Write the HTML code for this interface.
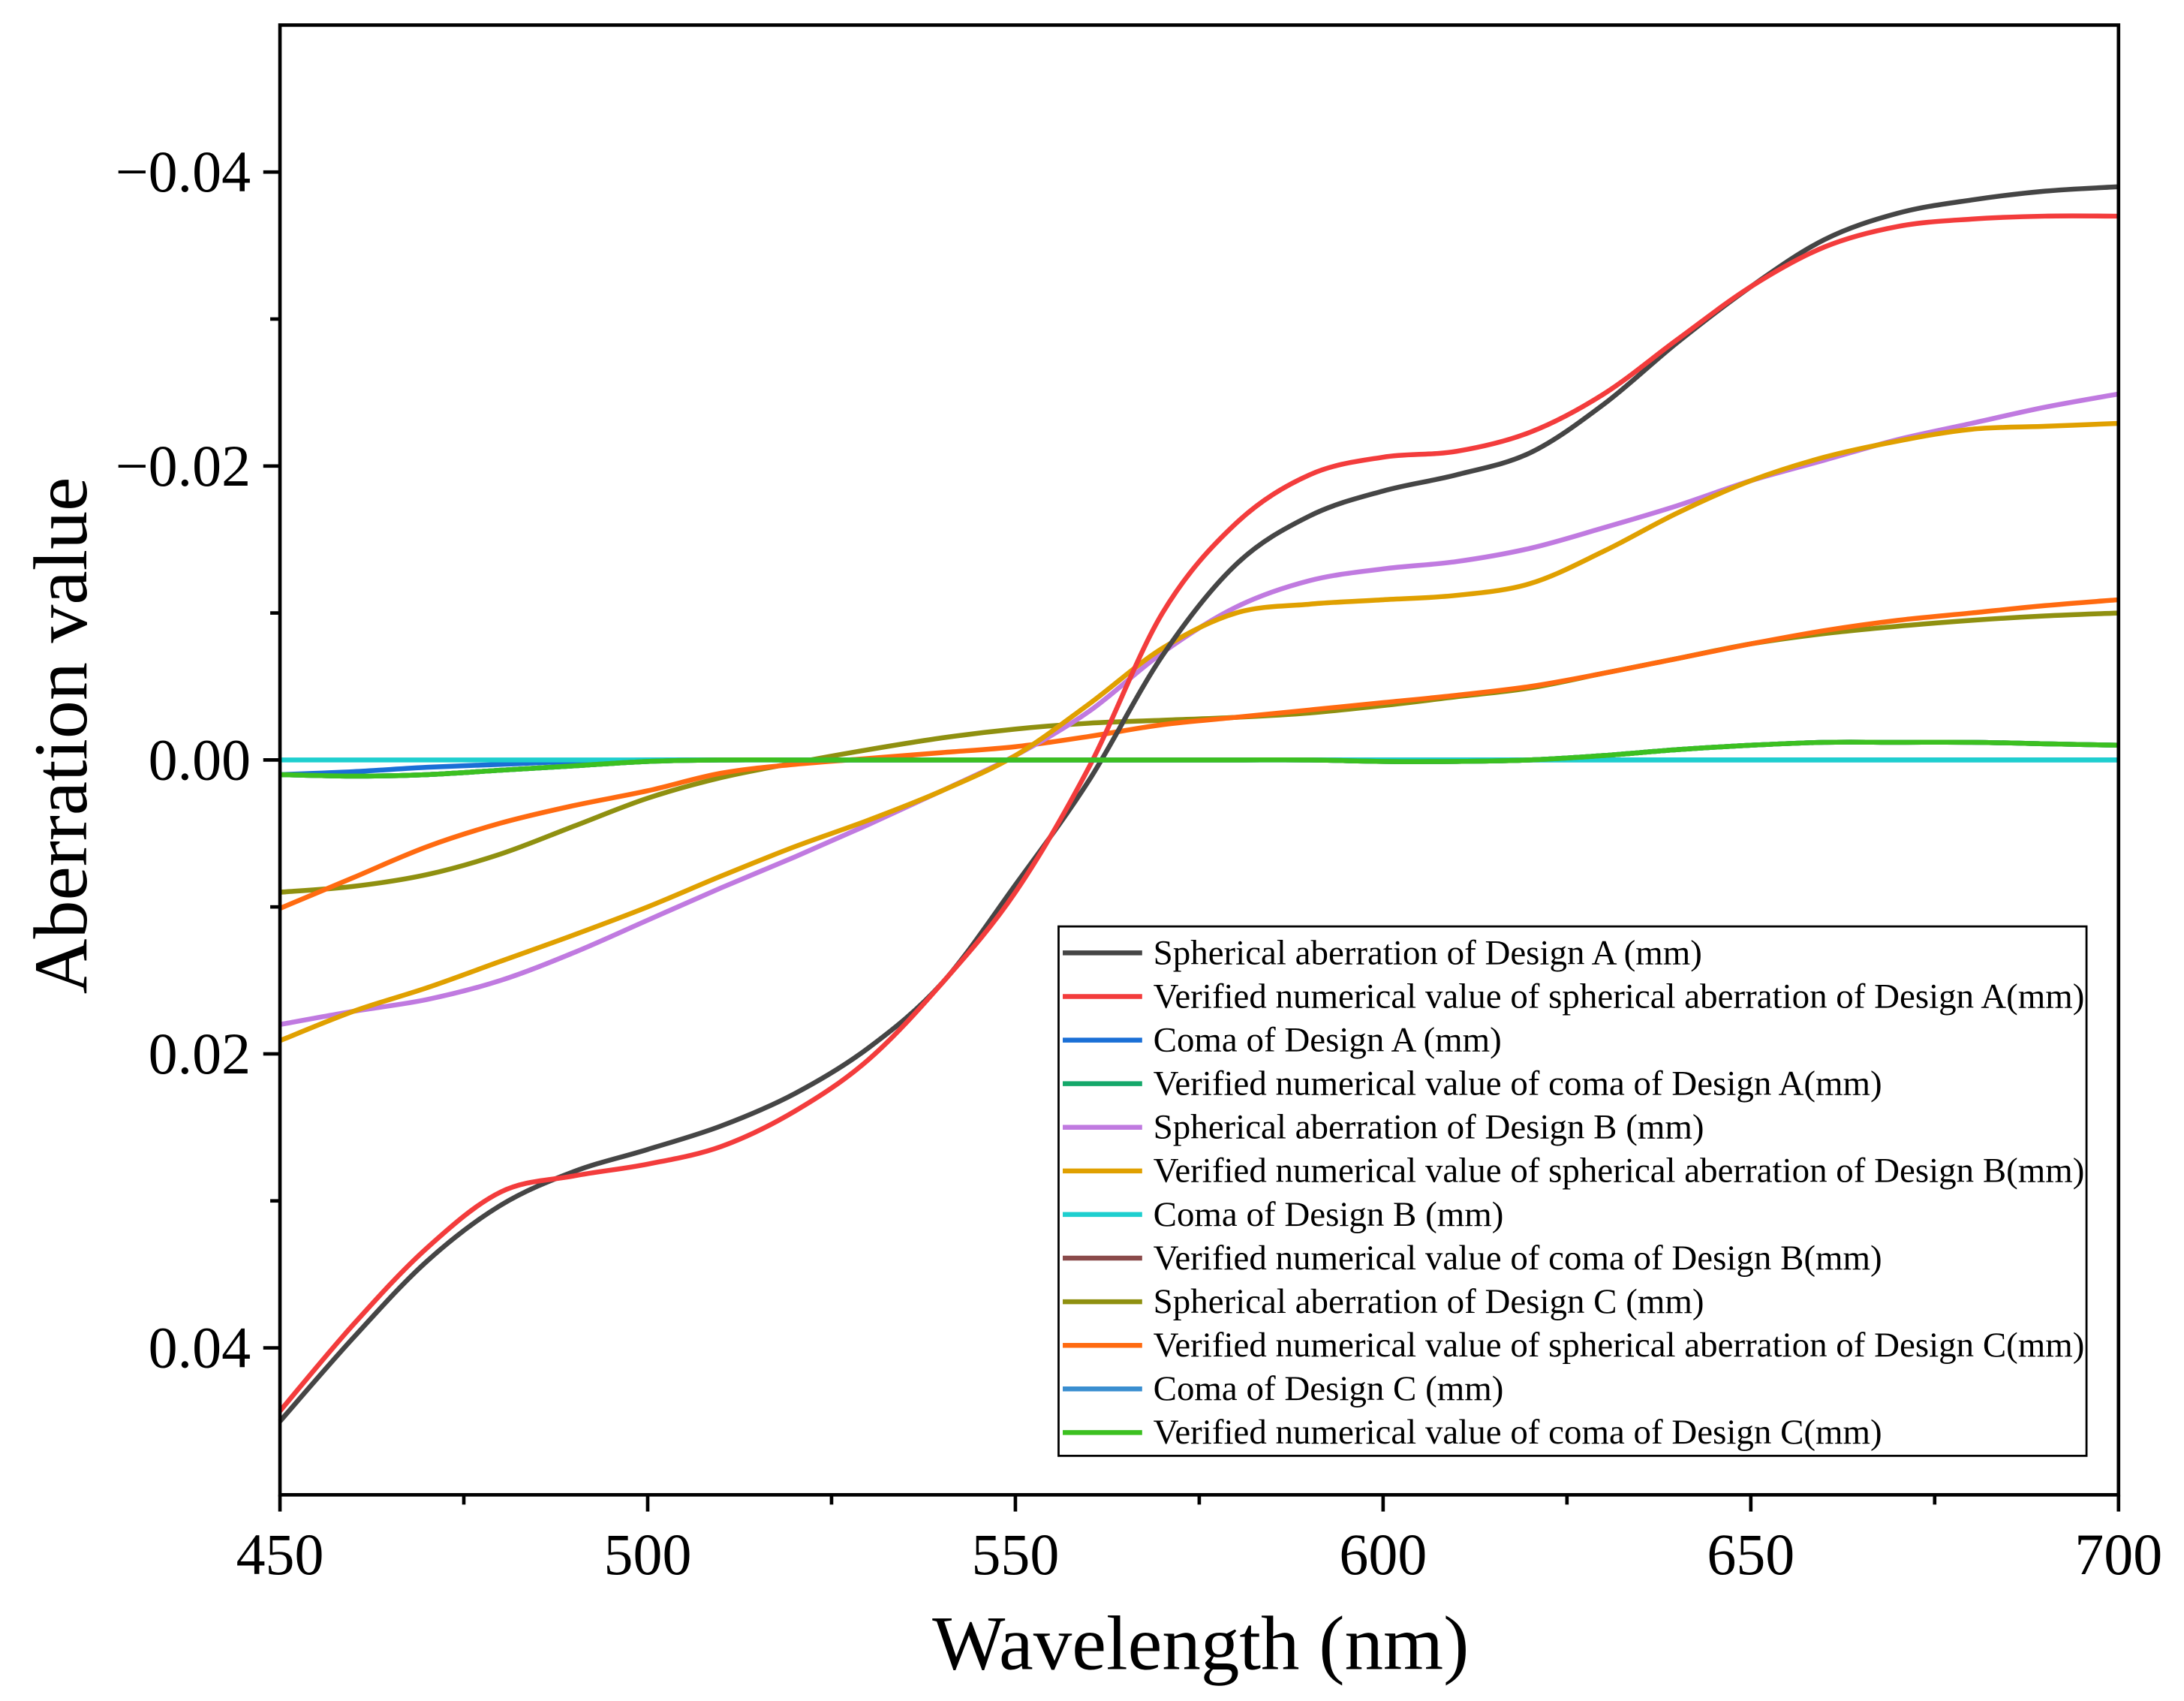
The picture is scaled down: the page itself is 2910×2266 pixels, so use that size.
<!DOCTYPE html>
<html><head><meta charset="utf-8"><style>
html,body{margin:0;padding:0;background:#fff}
svg{display:block}
text{font-family:"Liberation Serif",serif;fill:#000}
</style></head><body>
<svg id="chart" width="2910" height="2266" viewBox="0 0 1568 1221" xmlns="http://www.w3.org/2000/svg">
<g id="series"></g>
<rect x="201" y="18" width="1320" height="1055" fill="none" stroke="#000" stroke-width="2.5"/>
<g id="axes"></g>
<text x="862" y="1198" font-size="55.5" text-anchor="middle">Wavelength (nm)</text>
<text transform="translate(62,528) rotate(-90)" font-size="55" text-anchor="middle">Aberration value</text>
<g id="legend"></g>
</svg>
<script>
const wavelengths=[450,460,470,480,490,500,510,520,530,540,550,560,570,580,590,600,610,620,630,640,650,660,670,680,690,700];
const sphA=[0.045,0.0393,0.0341,0.0303,0.028,0.0265,0.0249,0.0227,0.0196,0.0152,0.0085,0.0014,-0.0071,-0.0133,-0.0166,-0.0183,-0.0194,-0.0209,-0.0242,-0.0284,-0.0322,-0.0354,-0.0372,-0.0381,-0.0387,-0.039];
const verSphA=[0.0443,0.0384,0.0332,0.0294,0.0283,0.0275,0.0263,0.0239,0.0204,0.0152,0.009,0.0005,-0.01,-0.0161,-0.0194,-0.0206,-0.021,-0.0223,-0.0249,-0.0286,-0.0322,-0.0349,-0.0363,-0.0368,-0.037,-0.037];
const comaA=[0.001,0.0008,0.0005,0.0003,0.0001,0,0,0,0,0,0,0,0,0,0,0,0,0,0,0,0,0,0,0,0,0];
const verComaA=[0.001,0.0011,0.001,0.0007,0.0004,0.0001,0,0,0,0,0,0,0,0,0,0.0001,0.0001,0,-0.0003,-0.0007,-0.001,-0.0012,-0.0012,-0.0012,-0.0011,-0.001];
const sphB=[0.018,0.0171,0.0163,0.015,0.0131,0.0109,0.0087,0.0066,0.0044,0.0021,-0.0003,-0.0033,-0.0073,-0.0104,-0.0122,-0.013,-0.0135,-0.0144,-0.0158,-0.0173,-0.019,-0.0204,-0.0218,-0.0229,-0.024,-0.0249];
const verSphB=[0.0191,0.0171,0.0155,0.0137,0.0119,0.01,0.0079,0.0059,0.0041,0.0021,-0.0003,-0.0038,-0.0076,-0.01,-0.0106,-0.0109,-0.0112,-0.012,-0.0142,-0.0168,-0.019,-0.0206,-0.0217,-0.0225,-0.0227,-0.0229];
const comaB=[0,0,0,0,0,0,0,0,0,0,0,0,0,0,0,0,0,0,0,0,0,0,0,0,0,0];
const verComaB=[0.001,0.0011,0.001,0.0007,0.0004,0.0001,0,0,0,0,0,0,0,0,0,0.0001,0.0001,0,-0.0003,-0.0007,-0.001,-0.0012,-0.0012,-0.0012,-0.0011,-0.001];
const sphC=[0.009,0.0086,0.0078,0.0064,0.0045,0.0026,0.0012,0.0002,-0.0007,-0.0015,-0.0021,-0.0025,-0.0027,-0.0029,-0.0032,-0.0037,-0.0043,-0.0049,-0.0059,-0.0069,-0.0079,-0.0086,-0.0091,-0.0095,-0.0098,-0.01];
const verSphC=[0.0101,0.008,0.0059,0.0043,0.0031,0.0021,0.0009,0.0003,-0.0001,-0.0005,-0.0009,-0.0016,-0.0024,-0.0029,-0.0034,-0.0039,-0.0044,-0.005,-0.0059,-0.0069,-0.0079,-0.0088,-0.0095,-0.01,-0.0105,-0.0109];
const comaC=[0.001,0.0011,0.001,0.0007,0.0004,0.0001,0,0,0,0,0,0,0,0,0,0.0001,0.0001,0,-0.0003,-0.0007,-0.001,-0.0012,-0.0012,-0.0012,-0.0011,-0.001];
const verComaC=[0.001,0.0011,0.001,0.0007,0.0004,0.0001,0,0,0,0,0,0,0,0,0,0.0001,0.0001,0,-0.0003,-0.0007,-0.001,-0.0012,-0.0012,-0.0012,-0.0011,-0.001];
const xTicks=[450,500,550,600,650,700];
const yTicks=[-0.04,-0.02,0,0.02,0.04];
const yTickLabels=["\u22120.04","\u22120.02","0.00","0.02","0.04"];
const legendLabels=["Spherical aberration of Design A (mm)","Verified numerical value of spherical aberration of Design A(mm)","Coma of Design A (mm)","Verified numerical value of coma of Design A(mm)","Spherical aberration of Design B (mm)","Verified numerical value of spherical aberration of Design B(mm)","Coma of Design B (mm)","Verified numerical value of coma of Design B(mm)","Spherical aberration of Design C (mm)","Verified numerical value of spherical aberration of Design C(mm)","Coma of Design C (mm)","Verified numerical value of coma of Design C(mm)"];
const colors=["#454545","#f33c3c","#1a6fd6","#15a86a","#c07ae0","#e0a000","#1ecfcf","#8a4a4a","#8f9010","#ff6a10","#3a8ed0","#3cc020"];
const seriesList=[sphA,verSphA,comaA,verComaA,sphB,verSphB,comaB,verComaB,sphC,verSphC,comaC,verComaC];
const seriesNames=["sph-a","ver-sph-a","coma-a","ver-coma-a","sph-b","ver-sph-b","coma-b","ver-coma-b","sph-c","ver-sph-c","coma-c","ver-coma-c"];
const drawOrder=[8,9,4,5,0,1,7,2,6,3,10,11];

const NS="http://www.w3.org/2000/svg";
const X0=201,X1=1521,Y0=1073,Y1=18;
function xs(v){return X0+(v-450)/(700-450)*(X1-X0);}
function ys(v){return Y1+(v-(-0.05))/(0.05-(-0.05))*(Y0-Y1);}
function mk(tag,attrs,parent){const e=document.createElementNS(NS,tag);for(const k in attrs)e.setAttribute(k,attrs[k]);parent.appendChild(e);return e;}
function smoothPath(pts){
  let d="M"+pts[0][0].toFixed(2)+","+pts[0][1].toFixed(2);
  for(let i=0;i<pts.length-1;i++){
    const p0=pts[Math.max(0,i-1)],p1=pts[i],p2=pts[i+1],p3=pts[Math.min(pts.length-1,i+2)];
    const c1=[p1[0]+(p2[0]-p0[0])/6,p1[1]+(p2[1]-p0[1])/6];
    const c2=[p2[0]-(p3[0]-p1[0])/6,p2[1]-(p3[1]-p1[1])/6];
    d+=" C"+c1[0].toFixed(2)+","+c1[1].toFixed(2)+" "+c2[0].toFixed(2)+","+c2[1].toFixed(2)+" "+p2[0].toFixed(2)+","+p2[1].toFixed(2);
  }
  return d;
}
const sg=document.getElementById("series");
drawOrder.forEach(i=>{
  const pts=wavelengths.map((w,j)=>[xs(w),ys(seriesList[i][j])]);
  const p=mk("path",{d:smoothPath(pts),fill:"none",stroke:colors[i],"stroke-width":3.5},sg);
  
  
});
const ax=document.getElementById("axes");
xTicks.forEach(t=>{
  const l=mk("line",{x1:xs(t),x2:xs(t),y1:Y0,y2:Y0+12,stroke:"#000","stroke-width":2.5},ax);
  
  
  const tx=mk("text",{x:xs(t),y:1130,"font-size":42,"text-anchor":"middle"},ax);
  tx.textContent=t;
  
  
});
for(let t=475;t<700;t+=50){
  const l=mk("line",{x1:xs(t),x2:xs(t),y1:Y0,y2:Y0+7,stroke:"#000","stroke-width":2.5},ax);
  
  
}
yTicks.forEach((t,i)=>{
  const l=mk("line",{x1:X0-12,x2:X0,y1:ys(t),y2:ys(t),stroke:"#000","stroke-width":2.5},ax);
  
  
  const tx=mk("text",{x:180,y:ys(t)+14,"font-size":42,"text-anchor":"end"},ax);
  tx.textContent=yTickLabels[i];
  
  
});
[-0.03,-0.01,0.01,0.03].forEach(t=>{
  const l=mk("line",{x1:X0-7,x2:X0,y1:ys(t),y2:ys(t),stroke:"#000","stroke-width":2.5},ax);
  
  
});
const lg=document.getElementById("legend");
const lb=mk("rect",{x:760,y:665,width:738,height:380,fill:"#fff",stroke:"#000","stroke-width":1.5},lg);


legendLabels.forEach((s,i)=>{
  const y=684+i*31.3;
  const l=mk("line",{x1:763,x2:820,y1:y,y2:y,stroke:colors[i],"stroke-width":3.5},lg);
  
  
  const t=mk("text",{x:828,y:y+8,"font-size":25.3},lg);
  t.textContent=s;
  
  
});
</script>
</body></html>
